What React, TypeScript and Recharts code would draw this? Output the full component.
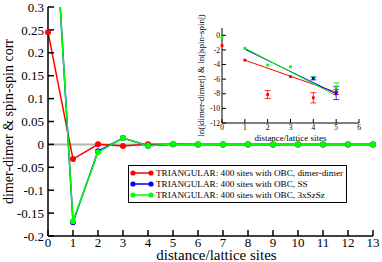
import { ComposedChart, Line, XAxis, YAxis, ReferenceLine, Legend, Scatter, ErrorBar } from "recharts";

const serif = "'Liberation Serif', 'Times New Roman', serif";

// main panel: correlation vs distance
const distance = [0, 1, 2, 3, 4, 5, 6, 7, 8, 9, 10, 11, 12, 13];
const dimerDimer = [0.245, -0.032, 0.0003, -0.0035, 0.0002, 0.0004, 0, 0, 0, 0, 0, 0, 0, 0];
const spinSpin = [0.75, -0.17, -0.015, 0.014, -0.0028, 0.0004, 0, 0, 0, 0, 0, 0, 0, 0];
const szSz = [0.75, -0.168, -0.017, 0.014, -0.0032, 0.0008, 0, 0, 0, 0, 0, 0, 0, 0];

const yTicks = [-0.2, -0.15, -0.1, -0.05, 0, 0.05, 0.1, 0.15, 0.2, 0.25, 0.3];
const yMinorTicks = [-0.175, -0.125, -0.075, -0.025, 0.025, 0.075, 0.125, 0.175, 0.225, 0.275];

const names = [
  "TRIANGULAR: 400 sites with OBC, dimer-dimer",
  "TRIANGULAR: 400 sites with OBC, SS",
  "TRIANGULAR: 400 sites with OBC, 3xSzSz",
];

// inset: ln|corr| vs distance, with fits
const redX = [0, 1, 2, 3, 4, 5];
const redY = [-1.4, -3.4, -8.1, -5.65, -8.55, -7.75];
const redErr = [0, 0, 0.55, 0, 0.7, 0.35];
const greenX = [0, 1, 2, 3, 4, 5];
const greenY = [-0.29, -1.77, -4.07, -4.3, -5.75, -7.1];
const greenErr = [0, 0, 0, 0, 0, 0.6];
const blueX = [4, 5];
const blueY = [-5.9, -7.9];
const blueErr = [0.2, 0.9];

const fitX = [1, 5];
const redFit = [-3.4, -7.8];
const blueFit = [-1.9, -8.0];
const greenFit = [-1.75, -8.25];

const insetYTicks = [-12, -10, -8, -6, -4, -2, 0];
const insetYMinor = [-11, -9, -7, -5, -3, -1];
const insetXTicks = [0, 1, 2, 3, 4, 5, 6];

const mainData = distance.map((d, i) => ({ d, dd: dimerDimer[i], ss: spinSpin[i], sz: szSz[i] }));
const pts = (xs: number[], ys: number[], es: number[]) => xs.map((x, i) => ({ x, y: ys[i], err: es[i] }));
const fit = (ys: number[]) => fitX.map((x, i) => ({ x, y: ys[i] }));

const frame = { stroke: "#000", strokeWidth: 1.5 };

function LegendBox({ payload }: any) {
  const items = [...(payload || [])].sort((a: any, b: any) => names.indexOf(a.value) - names.indexOf(b.value));
  return (
    <div style={{ display: "inline-block", border: "1px solid #000", background: "#fff", padding: "2px 3px 2px 1px", fontFamily: serif, fontSize: 9.2, color: "#000" }}>
      {items.map((p: any) => (
        <div key={p.value} style={{ display: "flex", alignItems: "center", height: 10.8, whiteSpace: "nowrap" }}>
          <svg width={24} height={8} style={{ flexShrink: 0 }}>
            <line x1={3} x2={21} y1={4} y2={4} stroke={p.color} strokeWidth={1.5} />
            <circle cx={3} cy={4} r={2.6} fill={p.color} />
            <circle cx={21} cy={4} r={2.6} fill={p.color} />
          </svg>
          <span style={{ marginLeft: 2 }}>{p.value}</span>
        </div>
      ))}
    </div>
  );
}

const square = (color: string) => (props: any) => (
  <rect x={props.cx - 1.4} y={props.cy - 1.4} width={2.8} height={2.8} fill={color} />
);

function Inset() {
  const thin = { stroke: "#000", strokeWidth: 1 };
  return (
    <ComposedChart width={176} height={142} margin={{ top: 28, right: 7, bottom: 0, left: 0 }}>
      <XAxis
        type="number" dataKey="x" domain={[0, 6]} ticks={insetXTicks} height={19}
        tickSize={-4} tickMargin={5.5} axisLine={thin} tickLine={thin}
        tick={{ fill: "#000", fontSize: 7.5, fontFamily: serif }}
        label={{ value: "distance/lattice sites", position: "insideBottom", offset: 1, fontSize: 9, fontFamily: serif, fill: "#000" }}
      />
      <XAxis xAxisId="t" orientation="top" mirror type="number" domain={[0, 6]} ticks={insetXTicks} height={0} tickSize={4} tick={false} axisLine={thin} tickLine={thin} />
      <YAxis
        type="number" domain={[-12, 1]} ticks={insetYTicks} width={32}
        tickSize={-4} tickMargin={6} axisLine={thin} tickLine={thin} interval={0}
        tick={{ fill: "#000", fontSize: 7.5, fontFamily: serif }}
        label={{ value: "ln(|dimer-dimer|) & ln(|spin-spin|)", angle: -90, position: "insideLeft", offset: 11, fontSize: 9, fontFamily: serif, fill: "#000", style: { textAnchor: "middle" } }}
      />
      <YAxis yAxisId="lm" mirror type="number" domain={[-12, 1]} ticks={insetYMinor} width={0} tickSize={2} tick={false} axisLine={false} tickLine={thin} />
      <YAxis yAxisId="r" orientation="right" mirror type="number" domain={[-12, 1]} ticks={insetYTicks} width={0} tickSize={4} tick={false} axisLine={thin} tickLine={thin} />
      <YAxis yAxisId="rm" orientation="right" mirror type="number" domain={[-12, 1]} ticks={insetYMinor} width={0} tickSize={2} tick={false} axisLine={false} tickLine={thin} />
      <Line data={fit(redFit)} dataKey="y" stroke="#ff0000" strokeWidth={1} dot={false} isAnimationActive={false} />
      <Line data={fit(blueFit)} dataKey="y" stroke="#0000ff" strokeWidth={1} dot={false} isAnimationActive={false} />
      <Line data={fit(greenFit)} dataKey="y" stroke="#00ff00" strokeWidth={1} dot={false} isAnimationActive={false} />
      <Scatter data={pts(redX, redY, redErr)} dataKey="y" fill="#ff0000" shape={square("#ff0000")} isAnimationActive={false}>
        <ErrorBar dataKey="err" direction="y" width={3} stroke="#ff0000" strokeWidth={0.8} />
      </Scatter>
      <Scatter data={pts(greenX, greenY, greenErr)} dataKey="y" fill="#00ff00" shape={square("#00ff00")} isAnimationActive={false}>
        <ErrorBar dataKey="err" direction="y" width={3} stroke="#00ff00" strokeWidth={0.8} />
      </Scatter>
      <Scatter data={pts(blueX, blueY, blueErr)} dataKey="y" fill="#0000ff" shape={square("#0000ff")} isAnimationActive={false}>
        <ErrorBar dataKey="err" direction="y" width={3} stroke="#0000ff" strokeWidth={0.8} />
      </Scatter>
    </ComposedChart>
  );
}

export default function App() {
  const dot = (c: string) => ({ r: 3, fill: c, stroke: c, strokeWidth: 0 });
  return (
    <div style={{ position: "absolute", left: 0, top: 0, width: 382, height: 262, background: "#fff" }}>
      <ComposedChart width={382} height={262} data={mainData} margin={{ top: 7, right: 9, bottom: 0, left: 0 }}>
        <XAxis
          dataKey="d" type="number" domain={[0, 13]} ticks={distance} height={26}
          tickSize={-6} tickMargin={8} axisLine={frame} tickLine={{ stroke: "#000", strokeWidth: 1.5 }}
          tick={{ fill: "#000", fontSize: 13, fontFamily: serif }}
          label={{ value: "distance/lattice sites", position: "insideBottom", offset: 2.5, dx: 6, fontSize: 15, fontFamily: serif, fill: "#000" }}
        />
        <XAxis xAxisId="t" orientation="top" mirror type="number" domain={[0, 13]} ticks={distance} height={0} tickSize={6} tick={false} axisLine={frame} tickLine={{ stroke: "#000", strokeWidth: 1.5 }} />
        <YAxis
          type="number" domain={[-0.2, 0.3]} allowDataOverflow ticks={yTicks} width={48} interval={0}
          tickSize={-6} tickMargin={10} axisLine={frame} tickLine={{ stroke: "#000", strokeWidth: 1.5 }}
          tick={{ fill: "#000", fontSize: 13, fontFamily: serif }}
          label={{ value: "dimer-dimer & spin-spin corr", angle: -90, position: "insideLeft", offset: 8, fontSize: 14, fontFamily: serif, fill: "#000", style: { textAnchor: "middle" } }}
        />
        <YAxis yAxisId="lm" mirror type="number" domain={[-0.2, 0.3]} ticks={yMinorTicks} width={0} tickSize={3} tick={false} axisLine={false} tickLine={{ stroke: "#000", strokeWidth: 1.5 }} />
        <YAxis yAxisId="r" orientation="right" mirror type="number" domain={[-0.2, 0.3]} ticks={yTicks} width={0} tickSize={6} tick={false} axisLine={frame} tickLine={{ stroke: "#000", strokeWidth: 1.5 }} />
        <YAxis yAxisId="rm" orientation="right" mirror type="number" domain={[-0.2, 0.3]} ticks={yMinorTicks} width={0} tickSize={3} tick={false} axisLine={false} tickLine={{ stroke: "#000", strokeWidth: 1.5 }} />
        <ReferenceLine y={0} stroke="#b4b4b4" strokeWidth={2} />
        <Line dataKey="dd" name={names[0]} stroke="#ff0000" strokeWidth={1.5} dot={dot("#ff0000")} isAnimationActive={false} />
        <Line dataKey="ss" name={names[1]} stroke="#0000ff" strokeWidth={1.5} dot={dot("#0000ff")} isAnimationActive={false} />
        <Line dataKey="sz" name={names[2]} stroke="#00ff00" strokeWidth={1.5} dot={dot("#00ff00")} isAnimationActive={false} />
        <Legend layout="vertical" align="center" verticalAlign="middle" content={<LegendBox />} wrapperStyle={{ position: "absolute", left: 128, top: 165, width: "auto" }} />
      </ComposedChart>
      <div style={{ position: "absolute", left: 190, top: 0 }}>
        <Inset />
      </div>
    </div>
  );
}
